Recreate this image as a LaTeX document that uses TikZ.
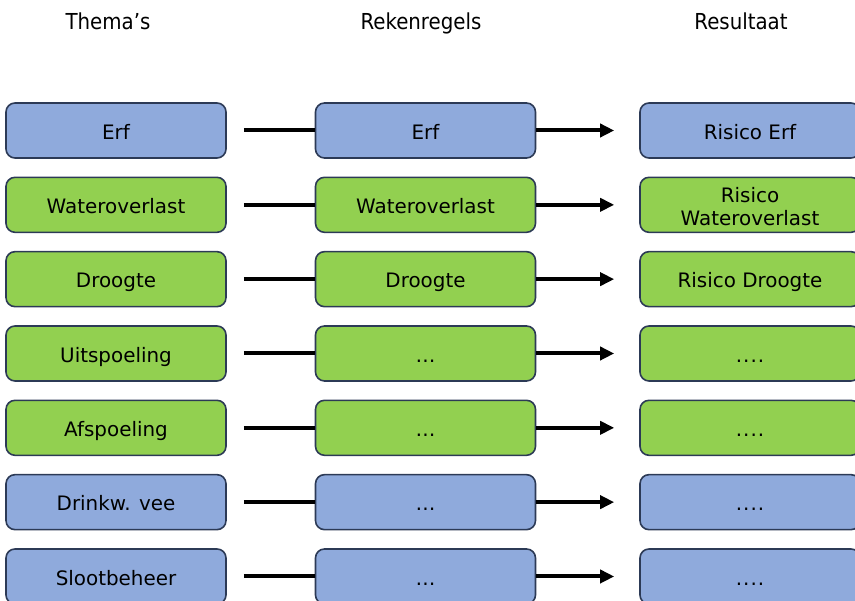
\documentclass[tikz,border=0pt]{standalone}
\usepackage{fontspec}
\setmainfont{DejaVu Sans}
\newfontfamily\headfont{DejaVu Sans Condensed}
\usetikzlibrary{arrows.meta}
\definecolor{boxblue}{RGB}{143,170,220}
\definecolor{boxgreen}{RGB}{146,208,80}
\definecolor{boxline}{RGB}{44,58,86}
% placeholder texts for rules and results not yet filled in
\newcommand{\ruleplaceholder}{…}
\newcommand{\resultplaceholder}{.\kern1pt.\kern1pt.\kern1pt.}
% fixed line box so every label sits on the same baseline
\newcommand{\boxtext}[1]{\rule{0pt}{22.6pt}#1\rule[-5pt]{0pt}{0pt}}
\tikzset{
  box/.style={draw=boxline, line width=1.6pt, rounded corners=9pt,
    minimum width=220pt, minimum height=55pt, inner sep=0pt, align=center,
    text=black, font={\fontsize{19.9}{23}\selectfont\lineskiplimit=-50pt}},
  bluebox/.style={box, fill=boxblue},
  greenbox/.style={box, fill=boxgreen},
  link/.style={line width=4pt, shorten <=17pt},
  feed/.style={line width=4pt, -{Triangle[length=14pt,width=13pt]}, shorten >=25pt},
  head/.style={anchor=base, inner sep=0pt, font=\headfont\fontsize{22}{25}\selectfont}
}
\begin{document}
\begin{tikzpicture}[x=1pt, y=-1pt]
  \useasboundingbox (0,0) rectangle (855,601);
  \clip (0,0) rectangle (855,601);

  % column headings
  \node[head] (h1) at (108,30) {Thema’s};
  \node[head] (h2) at (421,30) {Rekenregels};
  \node[head] (h3) at (741,30) {Resultaat};

  % one row per theme: theme -> rule -> result
  \foreach \i/\kind/\ta/\tb/\tc in {
      0/bluebox/Erf/Erf/Risico Erf,
      1/greenbox/Wateroverlast/Wateroverlast/{Risico\\Wateroverlast},
      2/greenbox/Droogte/Droogte/Risico Droogte,
      3/greenbox/Uitspoeling/\ruleplaceholder/\resultplaceholder,
      4/greenbox/Afspoeling/\ruleplaceholder/\resultplaceholder,
      5/bluebox/Drinkw. vee/\ruleplaceholder/\resultplaceholder,
      6/bluebox/Slootbeheer/\ruleplaceholder/\resultplaceholder} {
    \pgfmathsetmacro{\yy}{130.5+74.33*\i}
    \node[\kind] (t\i) at (116,\yy) {\boxtext{\ta}};
    \node[\kind] (r\i) at (425.5,\yy) {\boxtext{\tb}};
    \node[\kind] (s\i) at (750,\yy) {\boxtext{\tc}};
    \draw[link] (t\i) -- (r\i);
    \draw[feed] (r\i) -- (s\i);
  }
\end{tikzpicture}
\end{document}
